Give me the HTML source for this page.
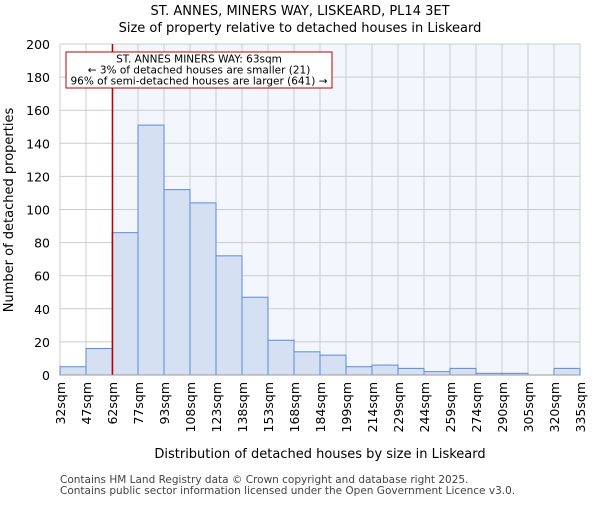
<!DOCTYPE html>
<html><head><meta charset="utf-8"><style>
body{margin:0;background:#fff;font-family:"Liberation Sans","DejaVu Sans",sans-serif}
</style></head><body>
<svg id="chart" width="600" height="500" xmlns="http://www.w3.org/2000/svg" font-family="DejaVu Sans, Liberation Sans, sans-serif">
<text x="300" y="15" text-anchor="middle" font-size="13">ST. ANNES, MINERS WAY, LISKEARD, PL14 3ET</text>
<text x="300" y="32" text-anchor="middle" font-size="13">Size of property relative to detached houses in Liskeard</text>
<g id="plot"></g>
<text x="320" y="458" text-anchor="middle" font-size="13">Distribution of detached houses by size in Liskeard</text>
<text transform="translate(13,210) rotate(-90)" text-anchor="middle" font-size="13">Number of detached properties</text>
<text x="60" y="483" font-size="10.5" fill="#444">Contains HM Land Registry data © Crown copyright and database right 2025.</text>
<text x="60" y="494" font-size="10.5" fill="#444">Contains public sector information licensed under the Open Government Licence v3.0.</text>
</svg>
<script>
const edgeLabels=["32sqm","47sqm","62sqm","77sqm","93sqm","108sqm","123sqm","138sqm","153sqm","168sqm","184sqm","199sqm","214sqm","229sqm","244sqm","259sqm","274sqm","290sqm","305sqm","320sqm","335sqm"];
const counts=[5,16,86,151,112,104,72,47,21,14,12,5,6,4,2,4,1,1,0,4];
const yTicks=[0,20,40,60,80,100,120,140,160,180,200];
const markerIndex=2.0;
const NS="http://www.w3.org/2000/svg";
const L=60,R=580,T=44,B=375,YMAX=200;
const n=counts.length,bw=(R-L)/n;
const x=i=>L+i*bw, y=v=>B-(v/YMAX)*(B-T);
const g=document.getElementById('plot');
function mk(t,a){const e=document.createElementNS(NS,t);for(const k in a)e.setAttribute(k,a[k]);g.appendChild(e);return e;}
const mx=x(markerIndex)+0.5;
const bg=mk('rect',{x:mx,y:T,width:R-mx,height:B-T,fill:'#f3f6fd'});


for(let i=0;i<edgeLabels.length;i++){const l=mk('line',{x1:x(i),x2:x(i),y1:T,y2:B,stroke:'#cccccc','stroke-width':1});

}
yTicks.forEach(v=>{const l=mk('line',{x1:L,x2:R,y1:y(v),y2:y(v),stroke:'#cccccc','stroke-width':1});


const t=mk('text',{x:L-10,y:y(v)+5,'text-anchor':'end','font-size':12.5});t.textContent=v;

});
counts.forEach((c,i)=>{if(c<=0)return;const r=mk('rect',{x:x(i),y:y(c),width:bw,height:B-y(c),fill:'#d6e0f3',stroke:'#5b8bd6','stroke-width':1});

});
edgeLabels.forEach((s,i)=>{const t=mk('text',{transform:`translate(${x(i)+5},382) rotate(-90)`,'text-anchor':'end','font-size':12.5});t.textContent=s;

});
const ml=mk('line',{x1:mx,x2:mx,y1:T,y2:B,stroke:'#bb0000','stroke-width':1.5});


const box=mk('rect',{x:66,y:52,width:266,height:36,fill:'#fff',stroke:'#bb0000','stroke-width':1});


["ST. ANNES MINERS WAY: 63sqm","← 3% of detached houses are smaller (21)","96% of semi-detached houses are larger (641) →"].forEach((s,i)=>{const t=mk('text',{x:199,y:62.5+i*11,'text-anchor':'middle','font-size':10.5});t.textContent=s;

});
const ax=mk('line',{x1:L,x2:R,y1:B,y2:B,stroke:'#999','stroke-width':1});


</script>
</body></html>
